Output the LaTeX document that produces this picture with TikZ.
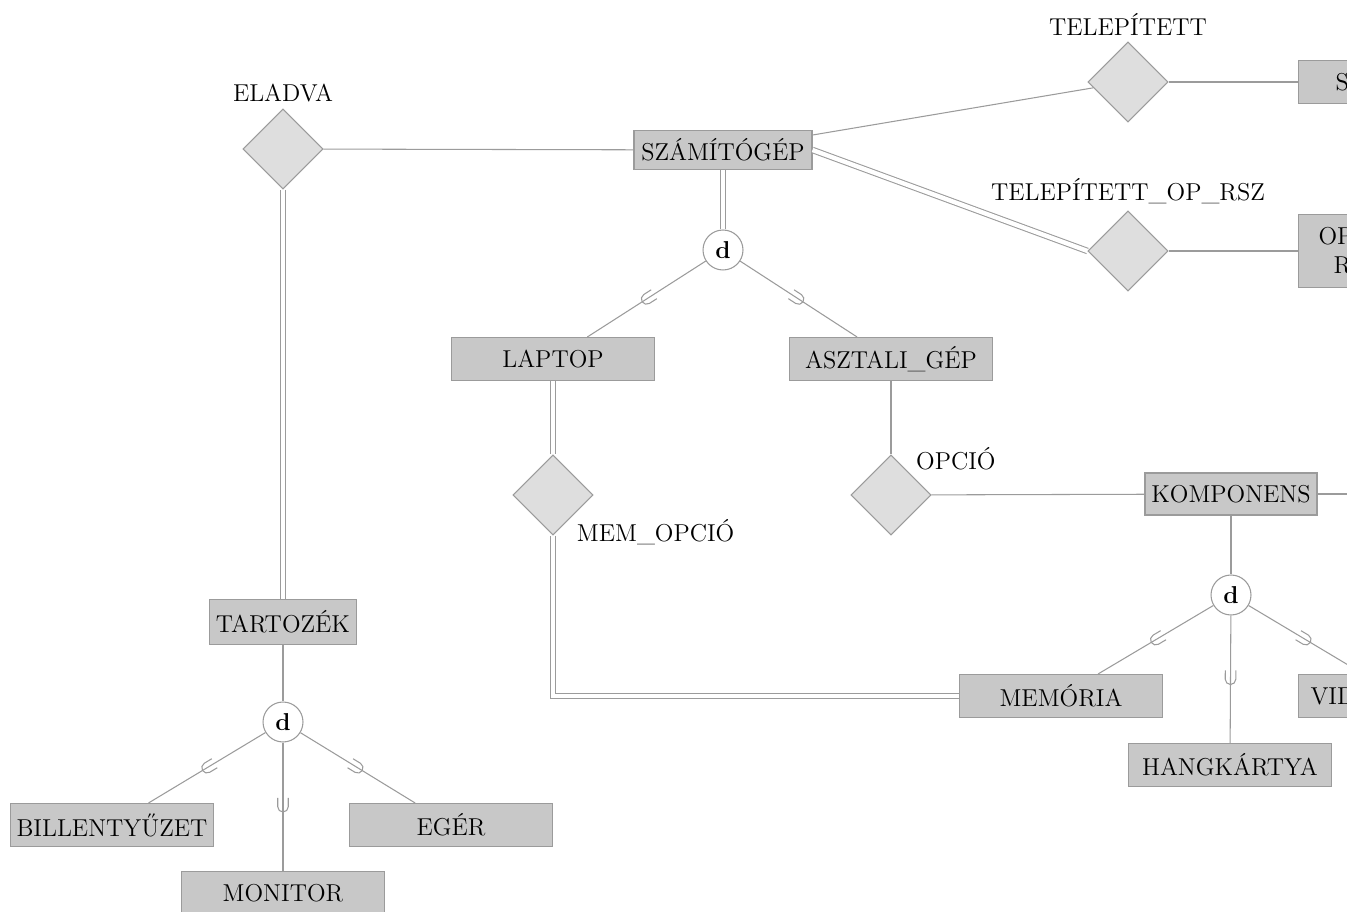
\documentclass[tikz,border=0pt]{standalone}
\usepackage{tikz}
\usetikzlibrary{shapes.geometric,decorations.markings}
\definecolor{entfill}{RGB}{200,200,200}
\definecolor{relfill}{RGB}{222,222,222}
\definecolor{edgeclr}{RGB}{155,155,155}
\newcommand{\erfont}{\fontsize{13.9}{16.5}\selectfont}
\tikzstyle{entity}=[draw=edgeclr, fill=entfill, line width=0.6pt, minimum width=4.06cm, minimum height=0.86cm, inner sep=2pt]
\tikzstyle{relation}=[draw=edgeclr, fill=relfill, line width=0.6pt, diamond, minimum width=1.6cm, minimum height=1.6cm, inner sep=0pt]
\tikzstyle{disj}=[draw=edgeclr, fill=white, line width=0.6pt, circle, minimum size=0.8cm, inner sep=0pt]
\tikzstyle{total}=[double, double distance=2.5pt]
% subset sign halfway along a specialization line
\tikzstyle{isa}=[postaction={decorate,decoration={markings,mark=at position 0.5 with {\draw[edgeclr, line width=0.6pt] (-5pt,3pt) -- (0pt,3pt) arc[start angle=90,end angle=-90,radius=3pt] -- (-5pt,-3pt);}}}]

\begin{document}
\begin{tikzpicture}[x=0.02cm, y=-0.02cm, font=\erfont]
    \useasboundingbox (0,0) rectangle (1347,912);
    \clip (0,0) rectangle (1347,912);

    \node [relation, label=above:ELADVA] (eladva) at (283,149) {};
    \node [entity, minimum width=3.56cm, minimum height=0.78cm] (szamitogep) at (723,150) {SZÁMÍTÓGÉP};
    \node [relation, label=above:TELEPÍTETT] (telepitett) at (1128,82) {};
    \node [entity, anchor=west, inner xsep=0.74cm] (szoftver) at (1298,82) {\makebox[2.58cm][l]{S}};
    \node [relation, label={above:TELEPÍTETT\_OP\_RSZ}] (telop) at (1128,251) {};
    \node [entity, anchor=west, minimum height=1.46cm, text width=3.26cm, align=left, inner xsep=0.4cm] (oprsz) at (1298,251) {OP\\\hspace*{0.3cm}R};

    \node [disj] (d1) at (723,250) {\textbf{d}};
    \node [entity] (laptop) at (553,359) {LAPTOP};
    \node [entity] (asztali) at (891,359) {ASZTALI\_GÉP};
    \node [relation, label={[label distance=-2pt]south east:MEM\_OPCIÓ}] (memopcio) at (553,495) {};
    \node [relation, label={[label distance=-1pt]north east:OPCIÓ}] (opcio) at (891,495) {};

    \node [entity, minimum width=3.44cm, minimum height=0.84cm] (komponens) at (1231,494) {KOMPONENS};
    \coordinate (kout) at (1400,494);
    \node [disj] (d2) at (1231,595) {\textbf{d}};
    \node [entity] (memoria) at (1061,696) {MEMÓRIA};
    \node [entity] (hang) at (1230,765) {HANGKÁRTYA};
    \node [entity, anchor=west, inner xsep=0.24cm] (video) at (1298,696) {\makebox[3.58cm][l]{VID}};

    \node [entity, minimum width=2.94cm, minimum height=0.9cm] (tartozek) at (283,622) {TARTOZÉK};
    \node [disj] (d3) at (283,722) {\textbf{d}};
    \node [entity] (bill) at (112,825) {BILLENTYŰZET};
    \node [entity] (eger) at (451,825) {EGÉR};
    \node [entity] (monitor) at (283,893) {MONITOR};

    % single lines
    \path[draw=edgeclr, line width=0.6pt]
    (eladva) edge (szamitogep)
    (szamitogep) edge (telepitett)
    (telepitett) edge (szoftver)
    (telop) edge (oprsz)
    (asztali) edge (opcio)
    (opcio) edge (komponens)
    (komponens) edge (kout)
    (komponens) edge (d2)
    (tartozek) edge (d3);

    % total participation
    \path[draw=edgeclr, line width=0.6pt]
    (eladva) edge[total] (tartozek)
    (szamitogep.east) edge[total] (telop.west)
    (szamitogep) edge[total] (d1)
    (laptop) edge[total] (memopcio);
    \draw[edgeclr, line width=0.6pt, total] (memopcio.south) |- (memoria.west);

    % subclasses
    \path[draw=edgeclr, line width=0.6pt]
    (d1) edge[isa] (laptop)
    (d1) edge[isa] (asztali)
    (d2) edge[isa] (memoria)
    (d2) edge[isa] (hang)
    (d2) edge[isa] (video)
    (d3) edge[isa] (bill)
    (d3) edge[isa] (monitor)
    (d3) edge[isa] (eger);
\end{tikzpicture}
\end{document}
